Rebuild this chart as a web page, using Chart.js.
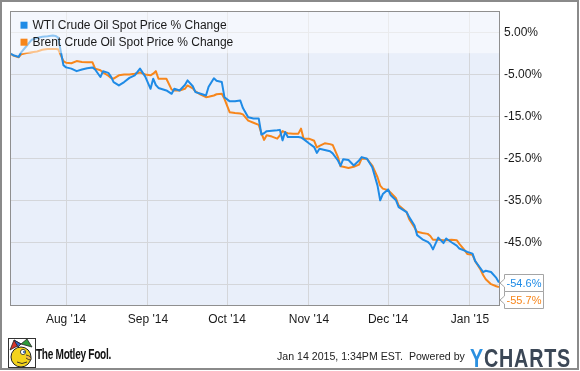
<!DOCTYPE html>
<html>
<head>
<meta charset="utf-8">
<script src="https://cdn.jsdelivr.net/npm/chart.js@4.4.0/dist/chart.umd.min.js"></script>
<style>
  html, body { margin: 0; padding: 0; background: #fff; }
  #wrap { position: relative; width: 580px; height: 371px; overflow: hidden; font-family: 'Liberation Sans', Arial, sans-serif; }
  #chart { position: absolute; left: 0; top: 0; }
  #frame { position: absolute; left: 0; top: 0; width: 579px; height: 370px; border: 2px solid #8a8a8a; box-sizing: border-box; pointer-events: none; }
  #fool { position: absolute; left: 8px; top: 338px; }
  #foolText { position: absolute; left: 36px; top: 346px; font-weight: bold; font-size: 14px; letter-spacing: -0.4px; color: #111; transform: scaleX(0.72); transform-origin: 0 0; white-space: nowrap; }
  #stamp { position: absolute; left: 277px; top: 350px; font-size: 10.6px; color: #222; white-space: pre; }
  #ycharts { position: absolute; left: 470px; top: 344px; font-size: 25px; font-weight: bold; color: #3b4756; letter-spacing: 1px; transform: scaleX(0.79); transform-origin: 0 0; white-space: nowrap; }
  #ycharts span { color: #2b90e0; }
</style>
</head>
<body>
<div id="wrap">
  <canvas id="chart" width="580" height="371"></canvas>
  <svg id="fool" width="28" height="30" viewBox="0 0 28 30">
    <rect x="0.5" y="0.5" width="27" height="29" fill="#fff" stroke="#333"/>
    <polygon points="2,12 6,2 13,6" fill="#d8352a" stroke="#222" stroke-width="0.8"/>
    <polygon points="13,6 19,1 24,9" fill="#2f9b3a" stroke="#222" stroke-width="0.8"/>
    <polygon points="6,2 13,6 10,9" fill="#2f64c8" stroke="#222" stroke-width="0.8"/>
    <ellipse cx="13" cy="19" rx="10" ry="10" fill="#f3d31c" stroke="#222" stroke-width="1"/>
    <circle cx="15" cy="14" r="2.6" fill="#fff" stroke="#222" stroke-width="0.8"/>
    <circle cx="16" cy="14" r="1.1" fill="#2a5fb0"/>
    <path d="M18,17 q6,1 5,5 q-3,0 -5,-2" fill="#f0b84a" stroke="#222" stroke-width="0.8"/>
    <path d="M9,24 q5,3 10,0" fill="none" stroke="#222" stroke-width="0.9"/>
  </svg>
  <div id="foolText">The Motley Fool.</div>
  <div id="stamp">Jan 14 2015, 1:34PM EST.  Powered by</div>
  <div id="ycharts"><span>Y</span>CHARTS</div>
  <div id="frame"></div>
</div>
<script>
// series names
const seriesNames = ['WTI Crude Oil Spot Price % Change', 'Brent Crude Oil Spot Price % Change'];
const seriesColors = ['#1f8be6', '#f7861b'];

// dates
const dates = [
  '2014-07-11', '2014-07-12', '2014-07-14', '2014-07-15', '2014-07-17', '2014-07-19', '2014-07-21', '2014-07-23',
  '2014-07-25', '2014-07-27', '2014-07-28', '2014-07-29', '2014-07-31', '2014-08-01', '2014-08-03', '2014-08-05',
  '2014-08-07', '2014-08-09', '2014-08-11', '2014-08-12', '2014-08-14', '2014-08-15', '2014-08-17', '2014-08-18',
  '2014-08-19', '2014-08-21', '2014-08-23', '2014-08-25', '2014-08-27', '2014-08-29', '2014-08-31', '2014-09-02',
  '2014-09-03', '2014-09-04', '2014-09-05', '2014-09-08', '2014-09-10', '2014-09-11', '2014-09-13', '2014-09-15',
  '2014-09-16', '2014-09-18', '2014-09-19', '2014-09-21', '2014-09-23', '2014-09-24', '2014-09-26', '2014-09-27',
  '2014-09-29', '2014-09-30', '2014-10-02', '2014-10-04', '2014-10-06', '2014-10-07', '2014-10-09', '2014-10-11',
  '2014-10-13', '2014-10-14', '2014-10-15', '2014-10-16', '2014-10-18', '2014-10-20', '2014-10-21', '2014-10-22',
  '2014-10-23', '2014-10-24', '2014-10-26', '2014-10-28', '2014-10-29', '2014-10-30', '2014-11-01', '2014-11-03',
  '2014-11-04', '2014-11-05', '2014-11-07', '2014-11-09', '2014-11-10', '2014-11-12', '2014-11-13', '2014-11-14',
  '2014-11-16', '2014-11-18', '2014-11-20', '2014-11-21', '2014-11-23', '2014-11-25', '2014-11-27', '2014-11-28',
  '2014-11-29', '2014-12-01', '2014-12-02', '2014-12-04', '2014-12-05', '2014-12-08', '2014-12-09', '2014-12-11',
  '2014-12-12', '2014-12-14', '2014-12-16', '2014-12-17', '2014-12-18', '2014-12-20', '2014-12-22', '2014-12-23',
  '2014-12-25', '2014-12-27', '2014-12-28', '2014-12-30', '2014-12-31', '2015-01-02', '2015-01-03', '2015-01-05',
  '2015-01-06', '2015-01-07', '2015-01-09', '2015-01-11', '2015-01-12'
];

// % change, WTI
const wti = [
  0.0, -0.4, -0.8, 0.3, 1.8, 3.3, 3.7, 4.0,
  4.1, 4.3, 4.2, 3.8, -2.8, -3.3, -3.6, -4.2,
  -3.8, -3.5, -3.3, -3.8, -5.6, -4.2, -4.6, -5.5,
  -6.8, -7.6, -6.8, -5.8, -5.2, -3.6, -5.5, -8.4,
  -6.0, -7.5, -8.2, -8.8, -9.6, -8.4, -8.8, -7.5,
  -6.4, -7.8, -9.2, -9.6, -10.0, -7.9, -5.9, -6.5,
  -6.8, -10.4, -11.4, -11.4, -11.2, -13.0, -15.2, -15.5,
  -15.5, -19.3, -19.0, -18.5, -18.4, -18.3, -18.2, -20.7,
  -18.7, -19.9, -19.9, -19.9, -20.0, -20.4, -21.4, -22.3,
  -23.7, -22.7, -23.0, -23.3, -23.8, -25.5, -26.8, -25.2,
  -25.4, -26.7, -25.5, -24.7, -25.1, -27.1, -31.5, -35.0,
  -33.5, -32.4, -33.8, -35.0, -36.6, -37.8, -39.0, -41.0,
  -43.3, -44.3, -44.9, -45.5, -46.7, -43.9, -45.2, -44.1,
  -45.0, -45.8, -46.5, -47.0, -47.3, -47.7, -49.5, -51.2,
  -52.1, -51.8, -52.1, -53.5, -54.6
];

// % change, Brent
const brent = [
  0.0, -0.5, -0.9, -0.2, 0.1, 0.3, 0.5, 0.9,
  1.1, 1.1, 1.1, 1.0, -1.8, -2.2, -2.3, -1.8,
  -2.0, -2.1, -2.1, -3.6, -4.0, -4.5, -5.3, -5.8,
  -6.0, -5.2, -5.0, -5.0, -4.8, -4.5, -5.0, -5.2,
  -4.8, -4.2, -6.0, -6.0, -8.6, -8.8, -8.8, -8.4,
  -7.6, -8.3, -9.0, -9.8, -10.4, -10.3, -10.0, -9.7,
  -9.6, -10.8, -14.0, -14.2, -14.3, -14.5, -16.0, -16.5,
  -17.0, -19.0, -20.6, -19.5, -19.8, -20.3, -19.5, -18.5,
  -18.8, -19.0, -19.1, -19.1, -17.9, -20.3, -20.3, -20.8,
  -22.4, -22.0, -21.4, -21.6, -21.8, -24.7, -26.9, -27.0,
  -27.3, -27.0, -26.5, -25.0, -25.1, -26.7, -29.5, -31.5,
  -32.2, -32.6, -33.2, -34.5, -36.2, -37.8, -39.5, -41.5,
  -42.5, -42.8, -43.0, -43.5, -44.4, -44.4, -44.5, -44.5,
  -44.4, -44.5, -45.4, -46.9, -47.8, -48.0, -49.5, -51.5,
  -52.8, -53.8, -55.0, -55.5, -55.7
];

// axis ticks
const monthTicks = ['2014-08-01', '2014-09-01', '2014-10-01', '2014-11-01', '2014-12-01', '2015-01-01'];
const monthLabels = ["Aug '14", "Sep '14", "Oct '14", "Nov '14", "Dec '14", "Jan '15"];
const yTicks = [5, -5, -15, -25, -35, -45, -55];
const yTickLabels = ['5.00%', '-5.00%', '-15.0%', '-25.0%', '-35.0%', '-45.0%', ''];
const yMin = -60.2, yMax = 10.1;

// x axis runs in days counted from the first date
const startDay = Date.parse(dates[0]);
const dayOf = s => (Date.parse(s) - startDay) / 86400000;
const xMin = -0.25, xMax = 185.4;

const decor = {
  id: 'decor',
  beforeDraw(chart) {
    const { ctx, chartArea: a } = chart;
    ctx.save();
    ctx.fillStyle = '#e9effa';
    ctx.fillRect(a.left, a.top, a.right - a.left, a.bottom - a.top);
    ctx.restore();
  },
  afterDatasetsDraw(chart) {
    const { ctx, chartArea: a } = chart;
    ctx.save();
    // legend band sits over the lines
    ctx.fillStyle = 'rgba(255,255,255,0.5)';
    ctx.fillRect(a.left, a.top, a.right - a.left, 42);
    ctx.font = "12px 'Liberation Sans', Arial, sans-serif";
    ctx.textBaseline = 'middle';
    chart.data.datasets.forEach((ds, i) => {
      const y = a.top + 14 + i * 17;
      ctx.fillStyle = ds.borderColor;
      ctx.fillRect(a.left + 10.5, y - 3.5, 7, 7);
      ctx.fillStyle = '#1a1a1a';
      ctx.fillText(ds.label, a.left + 22.5, y);
    });
    ctx.strokeStyle = '#8f8f8f';
    ctx.lineWidth = 1;
    ctx.strokeRect(Math.round(a.left) + 0.5, Math.round(a.top) + 0.5,
      Math.round(a.right - a.left) - 1, Math.round(a.bottom - a.top) - 1);
    ctx.restore();
  },
  afterDraw(chart) {
    const { ctx, chartArea: a } = chart;
    const tags = chart.data.datasets.map((ds, i) => {
      const meta = chart.getDatasetMeta(i);
      const pt = meta.data[meta.data.length - 1];
      const v = ds.data[ds.data.length - 1].y;
      return { y: pt.y, color: ds.borderColor, text: v.toFixed(1) + '%' };
    });
    tags.sort((p, q) => p.y - q.y);
    for (let i = 1; i < tags.length; i++) {
      if (tags[i].y < tags[i - 1].y + 17) tags[i].y = tags[i - 1].y + 17;
    }
    ctx.save();
    ctx.font = "11px 'Liberation Sans', Arial, sans-serif";
    ctx.textAlign = 'center';
    ctx.textBaseline = 'middle';
    tags.forEach(t => {
      const x0 = a.right + 4.5, w = 39, h = 17;
      const top = Math.round(t.y - h / 2) + 0.5;
      const mid = top + h / 2;
      ctx.beginPath();
      ctx.moveTo(x0, top);
      ctx.lineTo(x0 + w, top);
      ctx.lineTo(x0 + w, top + h);
      ctx.lineTo(x0, top + h);
      ctx.lineTo(x0, mid + 4);
      ctx.lineTo(a.right, mid);
      ctx.lineTo(x0, mid - 4);
      ctx.closePath();
      ctx.fillStyle = '#fff';
      ctx.fill();
      ctx.strokeStyle = '#a5a5a5';
      ctx.lineWidth = 1;
      ctx.stroke();
      ctx.fillStyle = t.color;
      ctx.fillText(t.text, x0 + w / 2, mid + 0.5);
    });
    ctx.restore();
  }
};

Chart.defaults.font.family = "'Liberation Sans', Arial, sans-serif";
Chart.defaults.font.size = 12;
Chart.defaults.color = '#1a1a1a';

const makeSeries = vals => vals.map((v, i) => ({ x: dayOf(dates[i]), y: v }));

new Chart(document.getElementById('chart'), {
  type: 'line',
  data: {
    datasets: [wti, brent].map((vals, i) => ({
      label: seriesNames[i],
      data: makeSeries(vals),
      borderColor: seriesColors[i],
      backgroundColor: seriesColors[i],
      borderWidth: 2,
      pointRadius: 0,
      tension: 0,
      borderJoinStyle: 'round'
    }))
  },
  options: {
    responsive: false,
    animation: false,
    devicePixelRatio: 1,
    layout: { padding: { left: 10, top: 10, right: 0, bottom: 0 } },
    plugins: { legend: { display: false }, tooltip: { enabled: false } },
    scales: {
      x: {
        type: 'linear',
        min: xMin,
        max: xMax,
        afterBuildTicks: s => { s.ticks = monthTicks.map(d => ({ value: dayOf(d) })); },
        afterFit: s => { s.height = 65; },
        ticks: { callback: (v, i) => monthLabels[i], padding: 6, maxRotation: 0, autoSkip: false },
        grid: { color: '#d4d6da', drawTicks: false },
        border: { display: false }
      },
      y: {
        position: 'right',
        min: yMin,
        max: yMax,
        afterBuildTicks: s => { s.ticks = yTicks.map(v => ({ value: v })); },
        afterFit: s => { s.width = 80; },
        ticks: { callback: (v, i) => yTickLabels[i], padding: 4 },
        grid: { color: '#d4d6da', drawTicks: false },
        border: { display: false }
      }
    }
  },
  plugins: [decor]
});
</script>
</body>
</html>
